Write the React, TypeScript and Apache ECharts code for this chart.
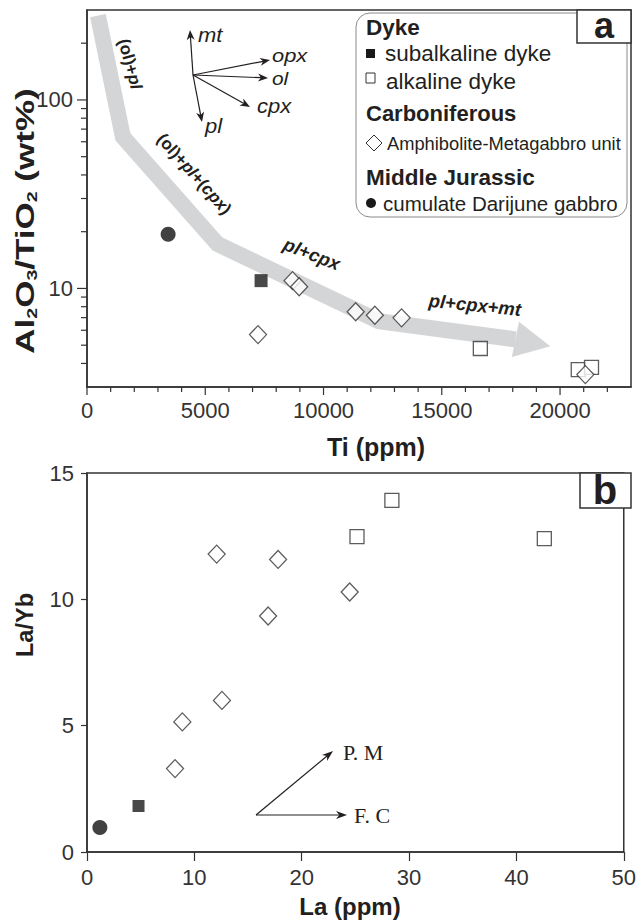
import { useEffect, useRef } from "react";
import * as echarts from "echarts";

// ---------- Panel a: Ti (ppm) vs Al2O3/TiO2 (wt%) ----------
const subalkalineA = [[7360, 11.0]];
const alkalineA = [[16630, 4.8], [20770, 3.71], [21330, 3.81]];
const amphiboliteA = [
  [7230, 5.69], [8690, 11.0], [8970, 10.2], [11360, 7.52],
  [12170, 7.21], [13300, 6.98], [21070, 3.49],
];
const gabbroA = [[3430, 19.4]];
// fractionation trend band (data coordinates)
const trendBand = [[463, 280], [1516, 63.8], [5518, 17.2], [12342, 6.7], [18113, 5.37], [19587, 4.93]];

const tiMajorTicks = [0, 5000, 10000, 15000, 20000];
const tiMinorTicks = [1000, 2000, 3000, 4000, 6000, 7000, 8000, 9000, 11000, 12000, 13000, 14000, 16000, 17000, 18000, 19000, 21000, 22000];
const ratioMajorTicks = [10, 100];
const ratioMinorTicks = [4, 5, 6, 7, 8, 9, 20, 30, 40, 50, 60, 70, 80, 90, 200];

// ---------- Panel b: La (ppm) vs La/Yb ----------
const subalkalineB = [[4.8, 1.82]];
const alkalineB = [[28.4, 13.92], [25.15, 12.48], [42.6, 12.4]];
const amphiboliteB = [
  [8.2, 3.3], [8.88, 5.15], [12.57, 6.0], [12.08, 11.79],
  [17.8, 11.58], [16.87, 9.34], [24.47, 10.29],
];
const gabbroB = [[1.2, 0.97]];

const FONT = "Liberation Sans, Arial, sans-serif";
const SERIF = "Liberation Serif, Times New Roman, serif";
const INK = "#231f20";
const BAND = "#d4d5d7";

function arrow(x1: number, y1: number, x2: number, y2: number, lw = 1.2, hl = 10, hw = 4) {
  const a = Math.atan2(y2 - y1, x2 - x1);
  const c = Math.cos(a), s = Math.sin(a);
  const bx = x2 - hl * c, by = y2 - hl * s;
  const nx = x2 - hl * 0.7 * c, ny = y2 - hl * 0.7 * s;
  const px = -s * hw, py = c * hw;
  return [
    { type: "line", silent: true, shape: { x1, y1, x2: nx, y2: ny }, style: { stroke: INK, lineWidth: lw } },
    {
      type: "polygon", silent: true,
      shape: { points: [[x2, y2], [bx + px, by + py], [nx, ny], [bx - px, by - py]] },
      style: { fill: INK },
    },
  ];
}

function txt(text: string, x: number, y: number, opts: any = {}) {
  const { rotation, scaleX, ...style } = opts;
  return {
    type: "text", silent: true, x, y, rotation: rotation || 0, scaleX: scaleX || 1,
    style: { text, fontFamily: FONT, fill: INK, fontSize: 18, align: "left", verticalAlign: "middle", ...style },
  };
}

function tickSeries(values: number[], axis: "x" | "y", other: number, len: number, gi: number) {
  return {
    type: "custom", xAxisIndex: gi, yAxisIndex: gi, silent: true, clip: false, z: 5,
    data: values.map((v) => (axis === "x" ? [v, other] : [other, v])),
    renderItem: (_p: any, api: any) => {
      const pt = api.coord([api.value(0), api.value(1)]);
      const shape = axis === "x"
        ? { x1: pt[0], y1: pt[1], x2: pt[0], y2: pt[1] + len }
        : { x1: pt[0] - len, y1: pt[1], x2: pt[0], y2: pt[1] };
      return { type: "line", shape, style: { stroke: "#333", lineWidth: 1.2 } };
    },
  };
}

const openStyle = { color: "#fff", borderColor: "#333", borderWidth: 1.3 };

export default function App() {
  const ref = useRef<HTMLDivElement>(null);
  useEffect(() => {
    if (!ref.current) return;
    const chart = echarts.init(ref.current, undefined, { renderer: "svg" });

    const axisLine = { show: true, lineStyle: { color: "#333", width: 1.5 } };
    const axisLabel = { fontFamily: FONT, fontSize: 22, color: "#333", formatter: (v: number) => String(v) };

    const sub = { fontSize: 14, fontWeight: "bold", fontFamily: FONT, lineHeight: 14, verticalAlign: "bottom" };
    const big = { fontSize: 25, fontWeight: "bold", fontFamily: FONT, lineHeight: 29, verticalAlign: "middle" };
    const nrm = { fontSize: 17, fontWeight: "bold", fontFamily: FONT, fill: INK };
    const itl = { fontSize: 17, fontWeight: "bold", fontStyle: "italic", fontFamily: FONT, fill: INK };
    const nrm18 = { ...nrm, fontSize: 18.5 };
    const itl18 = { ...itl, fontSize: 18.5 };

    const graphic: any[] = [
      // axis titles
      {
        type: "text", silent: true, x: 25, y: 221, rotation: Math.PI / 2, scaleX: 1.4,
        style: {
          text: "{b|Al}{s|2}{b|O}{s|3}{b|/TiO}{s|2}{b| (wt%)}",
          rich: { b: big, s: sub }, fill: INK, align: "center", verticalAlign: "middle",
        },
      },
      txt("Ti (ppm)", 376, 447, { fontWeight: "bold", fontSize: 25, align: "center" }),
      txt("La/Yb", 25, 625, { fontWeight: "bold", fontSize: 23.5, align: "center", rotation: Math.PI / 2 }),
      txt("La (ppm)", 350, 906, { fontWeight: "bold", fontSize: 24, align: "center" }),

      // legend box
      {
        type: "rect", silent: true, shape: { x: 356, y: 13, width: 271, height: 204, r: 14 },
        style: { fill: "#fff", stroke: "#8a8a8a", lineWidth: 1 },
      },
      { type: "rect", silent: true, shape: { x: 577, y: 10, width: 54, height: 33 }, style: { fill: "#fff", stroke: "#333", lineWidth: 1.5 } },
      txt("a", 604, 25, { fontWeight: "bold", fontSize: 36, align: "center" }),
      txt("Dyke", 366, 27, { fontWeight: "bold", fontSize: 22.5 }),
      { type: "rect", silent: true, shape: { x: 366, y: 49, width: 9, height: 9 }, style: { fill: "#1a1a1a" } },
      txt("subalkaline dyke", 385, 53, { fontSize: 22.5 }),
      { type: "rect", silent: true, shape: { x: 366, y: 73, width: 9, height: 10 }, style: { fill: "#fff", stroke: "#333", lineWidth: 1 } },
      txt("alkaline dyke", 386, 81, { fontSize: 22.5 }),
      txt("Carboniferous", 366, 113, { fontWeight: "bold", fontSize: 22 }),
      {
        type: "polygon", silent: true,
        shape: { points: [[374, 135], [382, 143], [374, 151], [366, 143]] },
        style: { fill: "#fff", stroke: "#333", lineWidth: 1 },
      },
      txt("Amphibolite-Metagabbro unit", 387, 143, { fontSize: 18.3 }),
      txt("Middle Jurassic", 366, 177, { fontWeight: "bold", fontSize: 22.5 }),
      { type: "circle", silent: true, shape: { cx: 371, cy: 203, r: 5 }, style: { fill: "#1a1a1a" } },
      txt("cumulate Darijune gabbro", 383, 203, { fontSize: 20.5 }),

      // vector diagram
      ...arrow(193, 75, 190, 30),
      ...arrow(193, 75, 270, 60),
      ...arrow(193, 75, 268, 78),
      ...arrow(193, 75, 250, 107),
      ...arrow(193, 75, 202, 122),
      txt("mt", 198, 35, { fontStyle: "italic", fontSize: 20, scaleX: 1.1 }),
      txt("opx", 272, 55, { fontStyle: "italic", fontSize: 19, scaleX: 1.15 }),
      txt("ol", 272, 78, { fontStyle: "italic", fontSize: 19, scaleX: 1.1 }),
      txt("cpx", 257, 106, { fontStyle: "italic", fontSize: 20, scaleX: 1.1 }),
      txt("pl", 205, 126, { fontStyle: "italic", fontSize: 20, scaleX: 1.1 }),

      // trend labels
      {
        type: "text", silent: true, x: 130, y: 64, rotation: -1.31,
        style: { text: "{n|(ol)+}{i|pl}", rich: { n: nrm, i: itl }, align: "center", verticalAlign: "middle" },
      },
      {
        type: "text", silent: true, x: 194, y: 174, rotation: -0.84,
        style: { text: "{n|(ol)+}{i|pl}{n|+(}{i|cpx}{n|)}", rich: { n: nrm, i: itl }, align: "center", verticalAlign: "middle" },
      },
      {
        type: "text", silent: true, x: 312, y: 254, rotation: -0.37,
        style: { text: "{i|pl}{n|+}{i|cpx}", rich: { n: nrm18, i: itl18 }, align: "center", verticalAlign: "middle" },
      },
      {
        type: "text", silent: true, x: 475, y: 305, rotation: -0.1,
        style: { text: "{i|pl}{n|+}{i|cpx}{n|+}{i|mt}", rich: { n: nrm18, i: itl18 }, align: "center", verticalAlign: "middle" },
      },

      // panel b
      { type: "rect", silent: true, shape: { x: 580, y: 473, width: 51, height: 35 }, style: { fill: "#fff", stroke: "#333", lineWidth: 1.5 } },
      txt("b", 605, 490, { fontWeight: "bold", fontSize: 40, align: "center" }),
      ...arrow(256, 815, 333, 751, 1.2, 11, 4),
      ...arrow(256, 815, 347, 815, 1.2, 11, 4),
      txt("P. M", 343, 752, { fontFamily: SERIF, fontSize: 22 }),
      txt("F. C", 354, 815, { fontFamily: SERIF, fontSize: 22 }),
    ];

    const option: any = {
      animation: false,
      backgroundColor: "#fff",
      grid: [
        { left: 87, top: 10, width: 544, height: 377, show: true, borderColor: "#333", borderWidth: 1.5 },
        { left: 87, top: 473, width: 544, height: 379, show: true, borderColor: "#333", borderWidth: 1.5 },
      ],
      xAxis: [
        {
          gridIndex: 0, type: "value", min: 0, max: 23000, interval: 5000,
          axisLine, axisTick: { show: false }, splitLine: { show: false },
          axisLabel: { ...axisLabel, margin: 12, showMaxLabel: false },
        },
        {
          gridIndex: 1, type: "value", min: 0, max: 50, interval: 10,
          axisLine, axisTick: { show: true, length: 9, lineStyle: { color: "#333", width: 1.2 } },
          splitLine: { show: false }, axisLabel: { ...axisLabel, margin: 14 },
        },
      ],
      yAxis: [
        {
          gridIndex: 0, type: "log", logBase: 10, min: 3, max: 300,
          axisLine, axisTick: { show: false }, splitLine: { show: false }, minorTick: { show: false },
          axisLabel: { ...axisLabel, margin: 14, showMinLabel: false, showMaxLabel: false },
        },
        {
          gridIndex: 1, type: "value", min: 0, max: 15, interval: 5,
          axisLine, axisTick: { show: true, length: 6, lineStyle: { color: "#333", width: 1.2 } },
          splitLine: { show: false }, axisLabel: { ...axisLabel, margin: 13 },
        },
      ],
      series: [
        {
          type: "custom", name: "trend", xAxisIndex: 0, yAxisIndex: 0, silent: true, z: 1,
          data: [trendBand[0]],
          renderItem: (_p: any, api: any) => {
            const pts = trendBand.map((p) => api.coord(p));
            const n = pts.length;
            const tip = pts[n - 1], base = pts[n - 2];
            const dx = tip[0] - base[0], dy = tip[1] - base[1];
            const len = Math.hypot(dx, dy);
            const nx = -dy / len, ny = dx / len, hw = 18;
            return {
              type: "group",
              children: [
                { type: "polyline", shape: { points: pts.slice(0, n - 1) }, style: { stroke: BAND, lineWidth: 16, fill: null, lineJoin: "miter" } },
                {
                  type: "polygon",
                  shape: { points: [tip, [base[0] + nx * hw, base[1] + ny * hw], [base[0] - nx * hw, base[1] - ny * hw]] },
                  style: { fill: BAND },
                },
              ],
            };
          },
        },
        tickSeries(tiMajorTicks, "x", 3, 8, 0),
        tickSeries(tiMinorTicks, "x", 3, 5, 0),
        tickSeries(ratioMajorTicks, "y", 0, 10, 0),
        tickSeries(ratioMinorTicks, "y", 0, 6, 0),
        { type: "scatter", name: "subalkaline dyke", xAxisIndex: 0, yAxisIndex: 0, z: 3, data: subalkalineA, symbol: "rect", symbolSize: 13, itemStyle: { color: "#1a1a1a" } },
        { type: "scatter", name: "alkaline dyke", xAxisIndex: 0, yAxisIndex: 0, z: 3, data: alkalineA, symbol: "rect", symbolSize: 14, itemStyle: openStyle },
        { type: "scatter", name: "Amphibolite-Metagabbro unit", xAxisIndex: 0, yAxisIndex: 0, z: 4, data: amphiboliteA, symbol: "diamond", symbolSize: [17, 18], itemStyle: openStyle },
        { type: "scatter", name: "cumulate Darijune gabbro", xAxisIndex: 0, yAxisIndex: 0, z: 3, data: gabbroA, symbol: "circle", symbolSize: 15, itemStyle: { color: "#111" } },
        { type: "scatter", name: "subalkaline dyke b", xAxisIndex: 1, yAxisIndex: 1, z: 3, data: subalkalineB, symbol: "rect", symbolSize: 12, itemStyle: { color: "#1a1a1a" } },
        { type: "scatter", name: "alkaline dyke b", xAxisIndex: 1, yAxisIndex: 1, z: 3, data: alkalineB, symbol: "rect", symbolSize: 14, itemStyle: openStyle },
        { type: "scatter", name: "Amphibolite-Metagabbro unit b", xAxisIndex: 1, yAxisIndex: 1, z: 4, data: amphiboliteB, symbol: "diamond", symbolSize: [17, 18], itemStyle: openStyle },
        { type: "scatter", name: "cumulate Darijune gabbro b", xAxisIndex: 1, yAxisIndex: 1, z: 3, data: gabbroB, symbol: "circle", symbolSize: 15, itemStyle: { color: "#111" } },
      ],
      graphic,
    };
    chart.setOption(option);
    return () => chart.dispose();
  }, []);
  return <div ref={ref} style={{ position: "absolute", left: 0, top: 0, width: 639, height: 921 }} />;
}
